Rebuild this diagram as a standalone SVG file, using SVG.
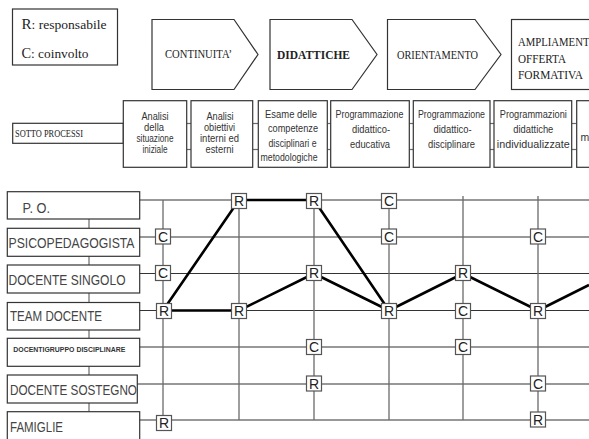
<svg xmlns="http://www.w3.org/2000/svg" width="589" height="439" viewBox="0 0 589 439">
  <style>
    .frame { fill: #fff; stroke: #333; stroke-width: 1.2; }
    .serif { font-family: "Liberation Serif", "Times New Roman", serif; fill: #222; }
    .sans { font-family: "Liberation Sans", Arial, sans-serif; fill: #333; }
    .sub { font-size: 10.5px; text-anchor: middle; }
    .role { font-size: 15px; fill: #444; }
    .hline { stroke: #333; stroke-width: 1.2; }
    .vline { stroke: #6a6a6a; stroke-width: 1.3; }
    .link { stroke: #6a6a6a; stroke-width: 1.2; }
    .flow { stroke: #000; stroke-width: 2.6; fill: none; stroke-linejoin: round; }
    .mbox { fill: #fff; stroke: #555; stroke-width: 1.2; }
    .mtxt { font-family: "Liberation Sans", Arial, sans-serif; font-size: 14px; fill: #222; text-anchor: middle; }
  </style>
  <defs>
    <g id="boxR"><rect class="mbox" x="-7.5" y="-7.5" width="15" height="15" fill="#fff" stroke="#555"/><text class="mtxt" x="0" y="5.3" fill="#222" text-anchor="middle">R</text></g>
    <g id="boxC"><rect class="mbox" x="-7.5" y="-7.5" width="15" height="15" fill="#fff" stroke="#555"/><text class="mtxt" x="0" y="5.3" fill="#222" text-anchor="middle">C</text></g>
  </defs>

  <rect width="589" height="439" fill="#fff"/>

  <!-- legend -->
  <g id="legend">
    <rect class="frame" x="12.5" y="9" width="105" height="56"/>
    <text class="serif" x="21.5" y="29" font-size="13" textLength="85" lengthAdjust="spacingAndGlyphs"><tspan font-size="14.5">R</tspan>: responsabile</text>
    <text class="serif" x="21.5" y="58" font-size="13" textLength="67" lengthAdjust="spacingAndGlyphs"><tspan font-size="14">C</tspan>: coinvolto</text>
  </g>

  <!-- process phases -->
  <g id="phase-continuita">
    <polygon class="frame" points="152,19.5 234,19.5 258,54.5 234,89.5 152,89.5"/>
    <text class="serif" x="165" y="58" font-size="12.5" textLength="67" lengthAdjust="spacingAndGlyphs">CONTINUITA’</text>
  </g>
  <g id="phase-didattiche">
    <polygon class="frame" points="270,19.5 352,19.5 377,54.5 352,89.5 270,89.5"/>
    <text class="serif" x="277" y="59" font-size="12.5" font-weight="bold" textLength="73" lengthAdjust="spacingAndGlyphs">DIDATTICHE</text>
  </g>
  <g id="phase-orientamento">
    <polygon class="frame" points="387.5,19.5 475,19.5 501,54.5 475,89.5 387.5,89.5"/>
    <text class="serif" x="397" y="59" font-size="12.5" textLength="81" lengthAdjust="spacingAndGlyphs">ORIENTAMENTO</text>
  </g>
  <g id="phase-ampliamento">
    <rect class="frame" x="511.5" y="19.5" width="90" height="70"/>
    <text class="serif" x="518" y="46" font-size="12.5" textLength="79" lengthAdjust="spacingAndGlyphs">AMPLIAMENTO</text>
    <text class="serif" x="518" y="63" font-size="12.5" textLength="48" lengthAdjust="spacingAndGlyphs">OFFERTA</text>
    <text class="serif" x="518" y="79" font-size="12.5" textLength="65" lengthAdjust="spacingAndGlyphs">FORMATIVA</text>
  </g>

  <!-- sub-process row -->
  <g id="subprocess-links">
    <line class="link" x1="186.7" y1="123.5" x2="191" y2="123.5"/>
    <line class="link" x1="186.7" y1="149.5" x2="191" y2="149.5"/>
    <line class="link" x1="252.7" y1="123.5" x2="258.3" y2="123.5"/>
    <line class="link" x1="252.7" y1="149.5" x2="258.3" y2="149.5"/>
    <line class="link" x1="327.3" y1="123.5" x2="330.7" y2="123.5"/>
    <line class="link" x1="327.3" y1="149.5" x2="330.7" y2="149.5"/>
    <line class="link" x1="409.3" y1="123.5" x2="413.3" y2="123.5"/>
    <line class="link" x1="409.3" y1="149.5" x2="413.3" y2="149.5"/>
    <line class="link" x1="490" y1="123.5" x2="494" y2="123.5"/>
    <line class="link" x1="490" y1="149.5" x2="494" y2="149.5"/>
    <line class="link" x1="571.7" y1="123.5" x2="576.7" y2="123.5"/>
    <line class="link" x1="571.7" y1="149.5" x2="576.7" y2="149.5"/>
  </g>
  <g id="sotto-processi">
    <rect class="frame" x="12.7" y="123.3" width="110.6" height="20"/>
    <text class="serif" x="15" y="137" font-size="10.5" textLength="68" lengthAdjust="spacingAndGlyphs">SOTTO PROCESSI</text>
  </g>
  <g id="sp-analisi-situazione">
    <rect class="frame" x="123.3" y="100.7" width="63.4" height="66.6"/>
    <text class="sans sub" x="155" y="119.5" textLength="27" lengthAdjust="spacingAndGlyphs">Analisi</text>
    <text class="sans sub" x="154" y="130.5" textLength="20" lengthAdjust="spacingAndGlyphs">della</text>
    <text class="sans sub" x="155" y="141.5" textLength="37" lengthAdjust="spacingAndGlyphs">situazione</text>
    <text class="sans sub" x="155" y="152.5" textLength="25" lengthAdjust="spacingAndGlyphs">iniziale</text>
  </g>
  <g id="sp-analisi-obiettivi">
    <rect class="frame" x="191" y="100.7" width="61.7" height="66.6"/>
    <text class="sans sub" x="220" y="119.5" textLength="27" lengthAdjust="spacingAndGlyphs">Analisi</text>
    <text class="sans sub" x="219.5" y="130.5" textLength="31" lengthAdjust="spacingAndGlyphs">obiettivi</text>
    <text class="sans sub" x="219.5" y="141.5" textLength="39" lengthAdjust="spacingAndGlyphs">interni ed</text>
    <text class="sans sub" x="219.5" y="152.5" textLength="28" lengthAdjust="spacingAndGlyphs">esterni</text>
  </g>
  <g id="sp-esame-competenze">
    <rect class="frame" x="258.3" y="100.7" width="69" height="66.6"/>
    <text class="sans sub" x="291" y="118" textLength="52" lengthAdjust="spacingAndGlyphs">Esame delle</text>
    <text class="sans sub" x="293" y="132" textLength="50" lengthAdjust="spacingAndGlyphs">competenze</text>
    <text class="sans sub" x="292.5" y="146.5" textLength="48" lengthAdjust="spacingAndGlyphs">disciplinari e</text>
    <text class="sans sub" x="289" y="161" textLength="57" lengthAdjust="spacingAndGlyphs">metodologiche</text>
  </g>
  <g id="sp-programmazione-educativa">
    <rect class="frame" x="330.7" y="100.7" width="78.6" height="66.6"/>
    <text class="sans sub" x="369.5" y="118" textLength="68" lengthAdjust="spacingAndGlyphs">Programmazione</text>
    <text class="sans sub" x="371" y="133" textLength="38" lengthAdjust="spacingAndGlyphs">didattico-</text>
    <text class="sans sub" x="370" y="148" textLength="40" lengthAdjust="spacingAndGlyphs">educativa</text>
  </g>
  <g id="sp-programmazione-disciplinare">
    <rect class="frame" x="413.3" y="100.7" width="76.7" height="66.6"/>
    <text class="sans sub" x="451.5" y="118" textLength="67" lengthAdjust="spacingAndGlyphs">Programmazione</text>
    <text class="sans sub" x="452.5" y="133" textLength="38" lengthAdjust="spacingAndGlyphs">didattico-</text>
    <text class="sans sub" x="451.5" y="148" textLength="47" lengthAdjust="spacingAndGlyphs">disciplinare</text>
  </g>
  <g id="sp-programmazioni-individualizzate">
    <rect class="frame" x="494" y="100.7" width="77.7" height="66.6"/>
    <text class="sans sub" x="533.3" y="118" textLength="67" lengthAdjust="spacingAndGlyphs">Programmazioni</text>
    <text class="sans sub" x="533.3" y="133" textLength="40" lengthAdjust="spacingAndGlyphs">didattiche</text>
    <text class="sans sub" x="533.3" y="148" textLength="73" lengthAdjust="spacingAndGlyphs">individualizzate</text>
  </g>
  <g id="sp-next">
    <rect class="frame" x="576.7" y="100.7" width="30" height="66.6"/>
    <text class="sans" x="580.5" y="141" font-size="10.5">m</text>
  </g>

  <!-- role boxes and their chain -->
  <g id="role-links">
    <line class="link" x1="89" y1="219" x2="89" y2="228"/>
    <line class="link" x1="89" y1="256" x2="89" y2="265"/>
    <line class="link" x1="89" y1="293" x2="89" y2="302"/>
    <line class="link" x1="89" y1="330" x2="89" y2="338"/>
    <line class="link" x1="89" y1="366" x2="89" y2="375"/>
    <line class="link" x1="89" y1="403" x2="89" y2="411.7"/>
  </g>
  <g id="role-po">
    <rect class="frame" x="7.3" y="191.7" width="132.4" height="27.3"/>
    <text class="sans role" x="22.5" y="212.5" font-size="13" textLength="27.5" lengthAdjust="spacingAndGlyphs">P. O.</text>
  </g>
  <g id="role-psicopedagogista">
    <rect class="frame" x="7.3" y="228.3" width="132.4" height="28"/>
    <text class="sans role" x="8.5" y="248.3" textLength="126" lengthAdjust="spacingAndGlyphs">PSICOPEDAGOGISTA</text>
  </g>
  <g id="role-docente-singolo">
    <rect class="frame" x="7.3" y="265" width="132.4" height="28"/>
    <text class="sans role" x="8.5" y="284.5" textLength="117" lengthAdjust="spacingAndGlyphs">DOCENTE SINGOLO</text>
  </g>
  <g id="role-team-docente">
    <rect class="frame" x="7.3" y="302.5" width="132.4" height="27.5"/>
    <text class="sans role" x="10" y="321" textLength="92" lengthAdjust="spacingAndGlyphs">TEAM DOCENTE</text>
  </g>
  <g id="role-gruppo-disciplinare">
    <rect class="frame" x="7.3" y="338.3" width="132.4" height="28"/>
    <text class="sans" x="13.3" y="351.7" font-size="7" font-weight="bold" fill="#444" textLength="112" lengthAdjust="spacingAndGlyphs">DOCENTIGRUPPO DISCIPLINARE</text>
  </g>
  <g id="role-docente-sostegno">
    <rect class="frame" x="7.3" y="375" width="130" height="28"/>
    <text class="sans role" x="10" y="395" textLength="127" lengthAdjust="spacingAndGlyphs">DOCENTE SOSTEGNO</text>
  </g>
  <g id="role-famiglie">
    <rect class="frame" x="7.3" y="411.7" width="132.4" height="30"/>
    <text class="sans role" x="10" y="432" textLength="53" lengthAdjust="spacingAndGlyphs">FAMIGLIE</text>
  </g>

  <!-- responsibility matrix: grid, flow and marks -->
  <g id="connectors">
    <g id="grid-rows">
      <line class="hline" x1="139.7" y1="200" x2="589" y2="200" stroke="#111"/>
      <line class="hline" x1="139.7" y1="237" x2="589" y2="237" stroke="#555"/>
      <line class="hline" x1="139.7" y1="273.5" x2="589" y2="273.5" stroke="#555"/>
      <line class="hline" x1="139.7" y1="310.5" x2="589" y2="310.5" stroke="#111"/>
      <line class="hline" x1="139.7" y1="347" x2="589" y2="347" stroke="#555"/>
      <line class="hline" x1="137.3" y1="384" x2="589" y2="384" stroke="#555"/>
      <line class="hline" x1="139.7" y1="420" x2="589" y2="420"/>
    </g>
    <g id="grid-columns">
      <line class="vline" x1="163" y1="200" x2="163" y2="420"/>
      <line class="vline" x1="239" y1="200" x2="239" y2="420"/>
      <line class="vline" x1="314" y1="200" x2="314" y2="420"/>
      <line class="vline" x1="389" y1="200" x2="389" y2="420"/>
      <line class="vline" x1="463" y1="196" x2="463" y2="420"/>
      <line class="vline" x1="538" y1="196" x2="538" y2="420"/>
    </g>
    <g id="flow">
      <polyline class="flow" points="163,310.5 239,200 314,200 389,310.5"/>
      <polyline class="flow" points="163,310.5 239,310.5 314,273.5 389,310.5 463,273.5 538,310.5 589,285"/>
    </g>
  </g>

  <g id="marks">
    <!-- P. O. -->
    <use href="#boxR" x="239" y="201"/>
    <use href="#boxR" x="314" y="201"/>
    <use href="#boxC" x="389" y="201"/>
    <!-- PSICOPEDAGOGISTA -->
    <use href="#boxC" x="163" y="236.5"/>
    <use href="#boxC" x="389" y="236.5"/>
    <use href="#boxC" x="538" y="236.5"/>
    <!-- DOCENTE SINGOLO -->
    <use href="#boxC" x="163" y="273"/>
    <use href="#boxR" x="314" y="273"/>
    <use href="#boxR" x="463" y="273"/>
    <!-- TEAM DOCENTE -->
    <use href="#boxR" x="164" y="311"/>
    <use href="#boxR" x="239" y="311"/>
    <use href="#boxR" x="389" y="311"/>
    <use href="#boxC" x="463" y="311"/>
    <use href="#boxR" x="538" y="311"/>
    <!-- gruppo disciplinare -->
    <use href="#boxC" x="314" y="347"/>
    <use href="#boxC" x="463" y="347"/>
    <!-- DOCENTE SOSTEGNO -->
    <use href="#boxR" x="314" y="383.5"/>
    <use href="#boxC" x="538" y="383.5"/>
    <!-- FAMIGLIE -->
    <use href="#boxR" x="164" y="423"/>
    <use href="#boxR" x="538" y="419.5"/>
  </g>
</svg>
